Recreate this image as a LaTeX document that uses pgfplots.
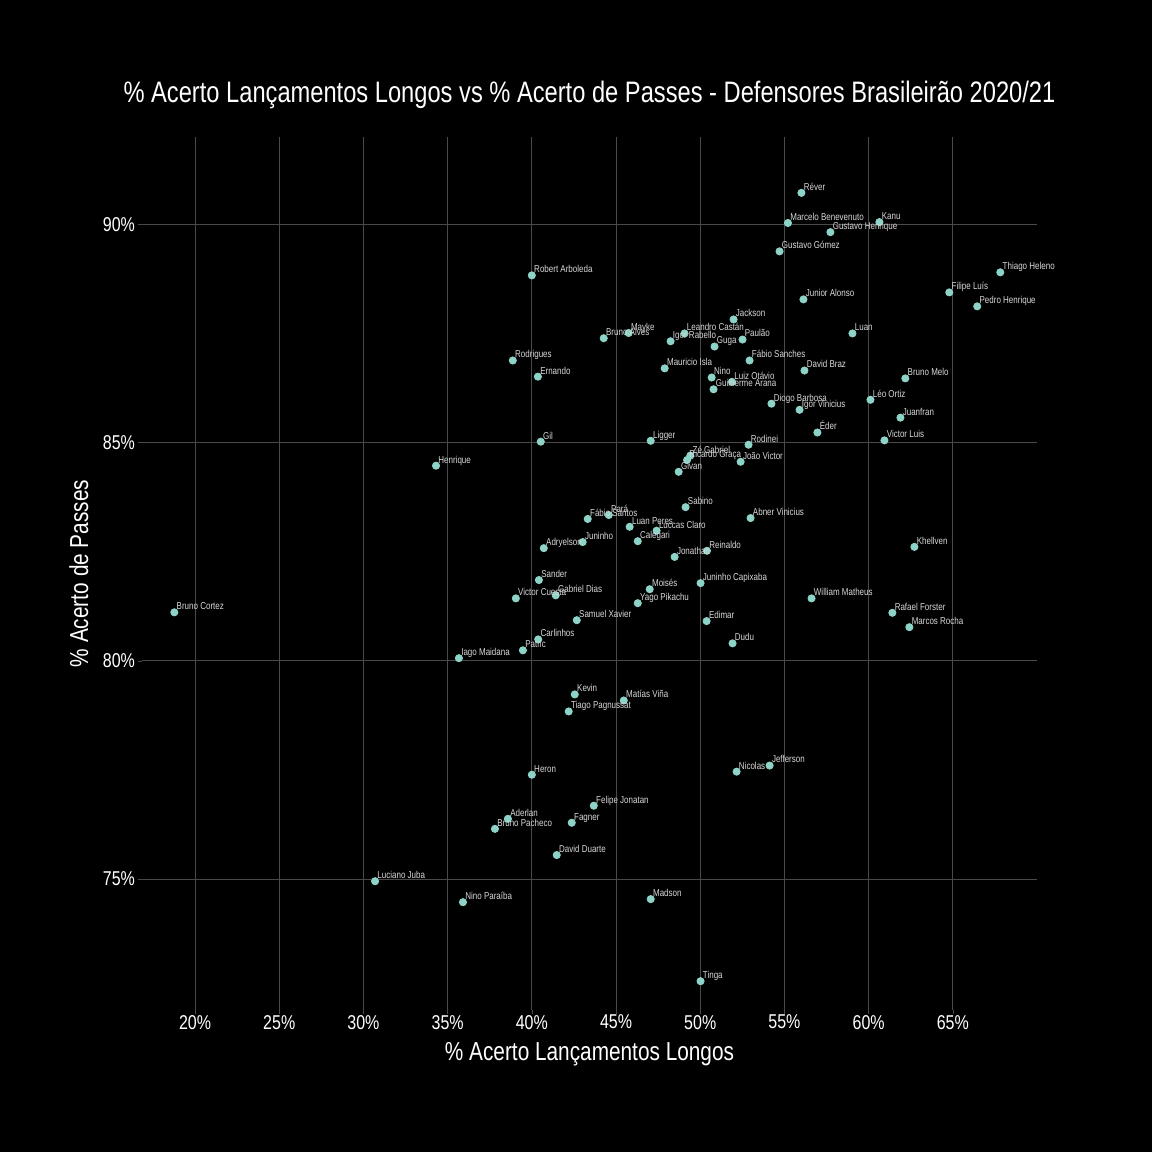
\documentclass[border=0pt]{standalone}
\usepackage{fontspec}
\setmainfont{Liberation Sans}[FakeStretch=0.8]
\usepackage{pgfplots}
\pgfplotsset{compat=1.18}
\definecolor{pt}{HTML}{8DD3C7}
\definecolor{gridc}{HTML}{4A4A4A}
\definecolor{lab}{HTML}{D8D8D8}
\begin{document}
\begin{tikzpicture}
\fill[black] (-71pt,-71pt) rectangle (505pt,505pt);
\begin{axis}[
  at={(0pt,0pt)}, anchor=south west,
  scale only axis, width=447.5pt, height=436.5pt,
  xmin=16.85, xmax=70.0, ymin=72.0, ymax=92.0,
  axis line style={draw=none},
  grid=major, major grid style={gridc, line width=0.5pt},
  xtick={20,25,...,65}, ytick={75,80,85,90},
  xtick pos=bottom, ytick pos=left,
  tick style={gridc}, tick align=outside, major tick length=2pt,
  xticklabel={\pgfmathprintnumber[assume math mode=true]{\tick}\%},
  yticklabel={\pgfmathprintnumber[assume math mode=true]{\tick}\%},
  ticklabel style={white, font=\fontsize{10}{12}\selectfont},
  xticklabel style={yshift=3pt},
  yticklabel style={xshift=2pt},
  title={\% Acerto Lançamentos Longos vs \% Acerto de Passes - Defensores Brasileirão 2020/21},
  title style={at={(axis description cs:0.5,1.026)}, anchor=base, white, font=\fontsize{14.8}{17}\selectfont},
  xlabel={\% Acerto Lançamentos Longos},
  xlabel style={at={(axis description cs:0.5,-0.0584)}, anchor=base, white, font=\fontsize{13}{15}\selectfont},
  ylabel={\% Acerto de Passes},
  ylabel style={at={(axis description cs:-0.0603,0.5)}, anchor=base, white, font=\fontsize{13}{15}\selectfont},
  clip=false,
  nodes near coords, point meta=explicit symbolic,
  nodes near coords style={anchor=base west, inner sep=0pt, xshift=1pt, yshift=1.3pt, lab, font=\fontsize{5}{6}\selectfont},
]
\addplot[only marks, mark=*, mark size=1.8pt, pt] table[col sep=comma, meta=label] {
x,y,label
56.01,90.72,Réver
55.21,90.03,Marcelo Benevenuto
60.64,90.05,Kanu
57.73,89.82,Gustavo Henrique
54.71,89.38,Gustavo Gómez
40.00,88.83,Robert Arboleda
67.82,88.90,Thiago Heleno
64.79,88.44,Filipe Luís
56.13,88.28,Junior Alonso
66.45,88.12,Pedro Henrique
51.98,87.82,Jackson
49.07,87.50,Leandro Castán
45.75,87.51,Mayke
44.27,87.39,Bruno Alves
59.04,87.50,Luan
48.24,87.32,Igor Rabello
52.51,87.36,Paulão
50.85,87.20,Guga
38.87,86.88,Rodrigues
52.93,86.88,Fábio Sanches
47.89,86.70,Mauricio Isla
56.19,86.65,David Braz
40.36,86.51,Ernando
50.68,86.49,Nino
62.18,86.47,Bruno Melo
51.89,86.39,Luiz Otávio
50.79,86.22,Guilherme Arana
60.11,85.98,Léo Ortiz
54.23,85.89,Diogo Barbosa
55.90,85.75,Igor Vinicius
61.89,85.57,Juanfran
56.96,85.23,Éder
60.94,85.05,Victor Luis
40.53,85.02,Gil
47.06,85.04,Ligger
52.87,84.95,Rodinei
49.41,84.70,Zé Gabriel
49.22,84.60,Ricardo Graça
52.40,84.56,João Victor
34.31,84.47,Henrique
48.72,84.33,Givan
49.13,83.52,Sabino
44.57,83.34,Pará
52.99,83.27,Abner Vinicius
43.32,83.25,Fábio Santos
45.81,83.07,Luan Peres
47.41,82.98,Luccas Claro
46.29,82.74,Calegari
43.02,82.72,Juninho
62.72,82.61,Khellven
40.71,82.58,Adryelson
50.40,82.52,Reinaldo
48.48,82.38,Jonathan
40.42,81.85,Sander
50.02,81.78,Juninho Capixaba
47.00,81.64,Moisés
41.42,81.50,Gabriel Dias
39.05,81.43,Victor Cuesta
56.61,81.43,William Matheus
46.29,81.32,Yago Pikachu
18.77,81.11,Bruno Cortez
61.41,81.10,Rafael Forster
42.67,80.93,Samuel Xavier
50.38,80.91,Edimar
62.42,80.77,Marcos Rocha
40.38,80.49,Carlinhos
51.92,80.40,Dudu
39.47,80.24,Patric
35.67,80.06,Iago Maidana
42.55,79.23,Kevin
45.46,79.09,Matías Viña
42.19,78.84,Tiago Pagnussat
54.12,77.60,Jefferson
52.16,77.46,Nicolas
40.00,77.39,Heron
43.68,76.68,Felipe Jonatan
38.58,76.38,Aderlan
42.37,76.29,Fagner
37.81,76.15,Bruno Pacheco
41.48,75.55,David Duarte
30.69,74.95,Luciano Juba
35.91,74.47,Nino Paraíba
47.06,74.54,Madson
50.02,72.66,Tinga
};
\end{axis}
\pgfresetboundingbox
\useasboundingbox (-71pt,-71pt) rectangle (505pt,505pt);
\end{tikzpicture}
\end{document}
